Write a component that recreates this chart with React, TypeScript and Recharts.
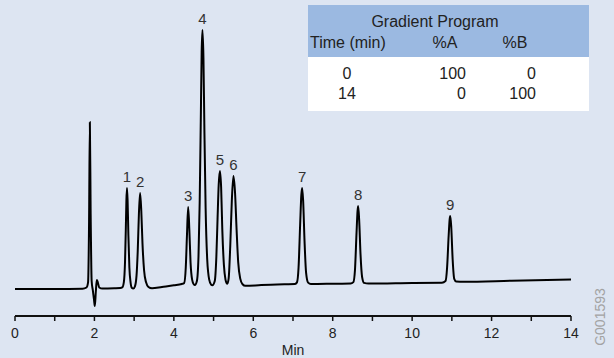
import { LineChart, Line, XAxis, YAxis, ReferenceDot } from 'recharts'

// retention time (min) and detector signal
const times = [
  0, 1.0, 1.7, 1.8, 1.84, 1.865, 1.885, 1.905, 1.93, 1.96, 1.99, 2.01, 2.035, 2.06, 2.085, 2.12, 2.2, 2.5, 2.65,
  2.7, 2.74, 2.77, 2.79, 2.805, 2.82, 2.835, 2.855, 2.88, 2.91, 2.94, 2.98,
  3.02, 3.06, 3.09, 3.12, 3.15, 3.18, 3.21, 3.25, 3.3, 3.36, 3.45, 3.7, 4.0, 4.2,
  4.26, 4.3, 4.33, 4.36, 4.39, 4.42, 4.46, 4.5, 4.53,
  4.58, 4.62, 4.65, 4.68, 4.7, 4.72, 4.745, 4.77, 4.8, 4.84, 4.89, 4.94, 4.97,
  5.03, 5.07, 5.1, 5.13, 5.16, 5.19, 5.22, 5.26, 5.3, 5.33, 5.345,
  5.38, 5.42, 5.46, 5.5, 5.54, 5.58, 5.62, 5.67, 5.73, 5.8, 6.2, 6.8, 7.05,
  7.1, 7.14, 7.18, 7.21, 7.23, 7.255, 7.29, 7.33, 7.38, 7.45, 8.0, 8.45,
  8.52, 8.56, 8.6, 8.625, 8.64, 8.665, 8.7, 8.74, 8.79, 8.9, 10.0, 10.75,
  10.84, 10.88, 10.92, 10.945, 10.96, 10.985, 11.02, 11.06, 11.11, 11.3, 12.5, 14.0,
]
const signal = [
  0, 0, 0.1, 0.6, 2.5, 25, 62, 28, 3, -0.5, -4, -6.3, -1, 3.4, 2.5, 0.6, 0.2, 0.3, 0.4,
  0.6, 2.5, 10, 22, 33, 37.6, 33, 20, 8, 2.5, 0.5, 0.2,
  1.0, 5, 14, 28, 35.7, 29, 17, 7, 2.5, 0.8, 0.3, 0.8, 1.4, 1.9,
  2.3, 8, 20, 30.5, 22, 10, 3.5, 1.8, 1.5,
  3, 12, 32, 65, 88, 96.3, 86, 58, 30, 11, 3.5, 1.6, 1.4,
  3, 12, 26, 39, 43.9, 38, 22, 9, 3.5, 2.2, 2.0,
  4, 16, 33, 42, 36, 22, 10, 4, 1.8, 1.2, 1.5, 1.8, 1.9,
  2.5, 8, 24, 35, 37.6, 33, 18, 6, 2.4, 1.9, 2.0, 2.1,
  2.6, 7, 21, 29, 30.9, 26, 13, 4.5, 2.3, 2.1, 2.3, 2.4,
  3, 8, 20, 26, 27.2, 23, 11, 3.8, 2.8, 2.7, 3.1, 3.6,
]

const peakNames = ['1', '2', '3', '4', '5', '6', '7', '8', '9']
const peakTimes = [2.82, 3.15, 4.36, 4.72, 5.16, 5.5, 7.23, 8.64, 10.96]
const peakHeights = [37.6, 35.7, 30.5, 96.3, 43.9, 42.0, 37.6, 30.9, 27.2]

const xTicks = [0, 1, 2, 3, 4, 5, 6, 7, 8, 9, 10, 11, 12, 13, 14]

const gradientHead = ['Time (min)', '%A', '%B']
const gradientTime = ['0', '14']
const gradientA = ['100', '0']
const gradientB = ['0', '100']

const data = times.map((t, i) => ({ t, v: signal[i] }))

const font = '"Liberation Sans", Arial, sans-serif'

function Txt({ x, y, children, align = 'center', size = 16, color = '#222' }: any) {
  const w = 200
  const left = align === 'center' ? x - w / 2 : align === 'right' ? x - w : x
  return (
    <div
      style={{
        position: 'absolute', left, top: y - 9, width: w, lineHeight: '18px', whiteSpace: 'nowrap',
        fontSize: size, color, textAlign: align, fontFamily: font,
      }}
    >
      {children}
    </div>
  )
}

function GradientTable() {
  return (
    <>
      <div style={{ position: 'absolute', left: 308, top: 5, width: 281, height: 52, background: '#9bb9e1' }} />
      <div style={{ position: 'absolute', left: 308, top: 57, width: 281, height: 54, background: '#ffffff' }} />
      <Txt x={435} y={22}>Gradient Program</Txt>
      <Txt x={310} y={43} align="left">{gradientHead[0]}</Txt>
      <Txt x={445} y={43}>{gradientHead[1]}</Txt>
      <Txt x={515} y={43}>{gradientHead[2]}</Txt>
      {gradientTime.map((v, i) => (
        <Txt key={'t' + i} x={347} y={74 + i * 20}>{v}</Txt>
      ))}
      {gradientA.map((v, i) => (
        <Txt key={'a' + i} x={466} y={74 + i * 20} align="right">{v}</Txt>
      ))}
      {gradientB.map((v, i) => (
        <Txt key={'b' + i} x={536} y={74 + i * 20} align="right">{v}</Txt>
      ))}
    </>
  )
}

export default function App() {
  return (
    <div style={{ position: 'absolute', left: 0, top: 0, width: 614, height: 358, background: '#dde5f2', fontFamily: font }}>
      <LineChart width={614} height={358} data={data} margin={{ top: 20, right: 43, left: 15, bottom: 2 }}>
        <XAxis
          type="number"
          dataKey="t"
          domain={[0, 14]}
          ticks={xTicks}
          interval={0}
          tickFormatter={(v: number) => (v % 2 === 0 ? String(v) : '')}
          axisLine={{ stroke: '#111', strokeWidth: 2 }}
          tickLine={{ stroke: '#111', strokeWidth: 1.5 }}
          tickSize={5}
          tickMargin={7}
          tick={{ fill: '#222', fontSize: 14, fontFamily: font }}
          height={40}
          label={{ value: 'Min', position: 'insideBottom', offset: 1, fill: '#222', fontSize: 14, fontFamily: font }}
        />
        <YAxis hide domain={[-10, 100]} />
        <Line
          type="monotone"
          dataKey="v"
          stroke="#000"
          strokeWidth={2}
          dot={false}
          isAnimationActive={false}
        />
        {peakNames.map((name, i) => (
          <ReferenceDot
            key={name}
            x={peakTimes[i]}
            y={peakHeights[i]}
            r={1}
            fill="none"
            stroke="none"
            label={{ value: name, position: 'top', offset: 5, fill: '#333', fontSize: 15, fontFamily: font }}
          />
        ))}
      </LineChart>
      <GradientTable />
      <div
        style={{
          position: 'absolute', left: 600 - 40, top: 317 - 9, width: 80, lineHeight: '18px', textAlign: 'center',
          transform: 'rotate(-90deg)', fontSize: 14, color: '#a3a3a3', fontFamily: font,
        }}
      >
        G001593
      </div>
    </div>
  )
}
